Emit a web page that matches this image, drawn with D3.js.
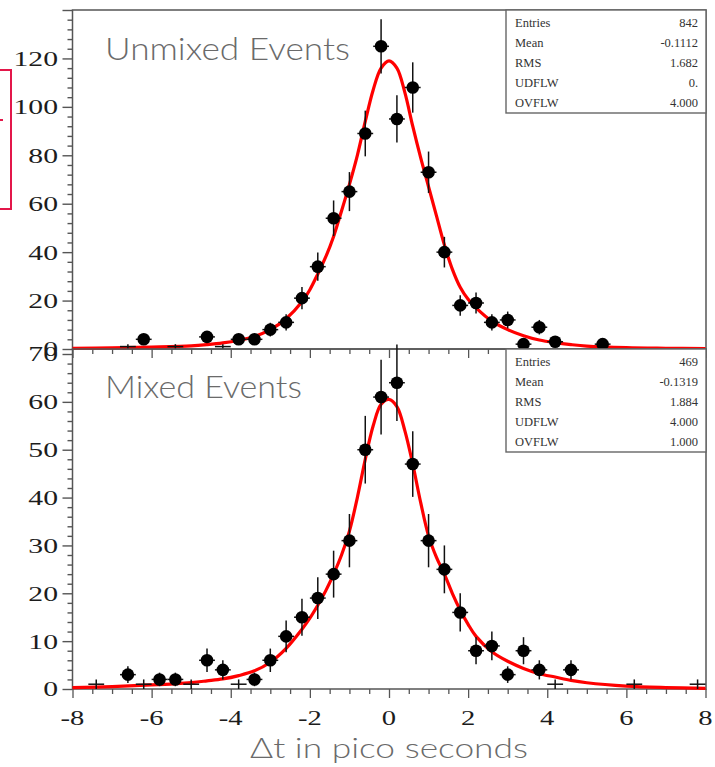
<!DOCTYPE html>
<html>
<head>
<meta charset="utf-8">
<script src="https://cdn.jsdelivr.net/npm/d3@7"></script>
<style>
  html, body { margin: 0; padding: 0; background: #fff; }
  svg { display: block; }
</style>
</head>
<body>
<svg id="chart" width="715" height="767"></svg>
<script>
// Δt distributions, 0.4 ps bins: bin centres (ps) and entries per bin
const unmixedBins   = [-6.2, -4.6, -3.8, -3.4, -3.0, -2.6, -2.2, -1.8, -1.4, -1.0, -0.6, -0.2, 0.2, 0.6, 1.0, 1.4, 1.8, 2.2, 2.6, 3.0, 3.4, 3.8, 4.2, 5.4];
const unmixedCounts = [4, 5, 4, 4, 8, 11, 21, 34, 54, 65, 89, 125, 95, 108, 73, 40, 18, 19, 11, 12, 2, 9, 3, 2];
const unmixedSingles = [-6.6, -5.4, -4.2];          // bins holding a single entry

const mixedBins   = [-6.6, -5.8, -5.4, -4.6, -4.2, -3.4, -3.0, -2.6, -2.2, -1.8, -1.4, -1.0, -0.6, -0.2, 0.2, 0.6, 1.0, 1.4, 1.8, 2.2, 2.6, 3.0, 3.4, 3.8, 4.6];
const mixedCounts = [3, 2, 2, 6, 4, 2, 6, 11, 15, 19, 24, 31, 50, 61, 64, 47, 31, 25, 16, 8, 9, 3, 8, 4, 4];
const mixedSingles = [-7.4, -6.2, -5.0, -3.8, 4.2, 6.2, 7.8];

// fitted resolution curve, sampled along Δt
const fitT       = [-8, -7, -6, -5, -4.6, -4.2, -3.8, -3.4, -3.0, -2.6, -2.2, -2.0, -1.8, -1.6, -1.4, -1.2, -1.0, -0.8, -0.6, -0.4, -0.2, 0, 0.2, 0.4, 0.6, 0.8, 1.0, 1.2, 1.4, 1.6, 1.8, 2.0, 2.2, 2.6, 3.0, 3.4, 3.8, 4.2, 4.6, 5.0, 6, 7, 8];
const unmixedFit = [0.3, 0.45, 0.8, 1.3, 1.8, 2.5, 3.6, 5.2, 8, 12.5, 19.5, 24.5, 31, 38, 46.5, 57, 68, 80, 94, 107, 116, 119, 116, 106, 92, 79, 67, 55, 43, 33, 25.5, 20.5, 17, 11.5, 8, 5.5, 3.7, 2.6, 1.8, 1.2, 0.55, 0.3, 0.15];
const mixedFit   = [0.3, 0.5, 0.85, 1.35, 1.7, 2.1, 2.8, 3.8, 5.6, 8.5, 12.5, 14.8, 17.5, 20.5, 24, 28, 33, 40, 48, 55, 59.5, 60.5, 59, 54, 47, 39, 32, 27.5, 24, 20, 16.5, 13.5, 11, 7.8, 5.8, 4.3, 3.2, 2.5, 1.8, 1.3, 0.6, 0.3, 0.15];

// axis labels
const xTickLabels   = [-8, -6, -4, -2, 0, 2, 4, 6, 8];
const unmixedYTicks = [0, 20, 40, 60, 80, 100, 120];
const mixedYTicks   = [0, 10, 20, 30, 40, 50, 60, 70];

// statistics boxes
const unmixedStats = [["Entries", "842"], ["Mean", "-0.1112"], ["RMS", "1.682"], ["UDFLW", "0."], ["OVFLW", "4.000"]];
const mixedStats   = [["Entries", "469"], ["Mean", "-0.1319"], ["RMS", "1.884"], ["UDFLW", "4.000"], ["OVFLW", "1.000"]];

const binHalf = 0.2;
const frameLeft = 72.5, frameRight = 706;
const svg = d3.select("#chart");

const x = d3.scaleLinear().domain([-8, 8]).range([72.5, 705.5]);

const panels = [
  {
    name: "Unmixed Events", titleWidth: 245, titleY: 60,
    y: d3.scaleLinear().domain([0, 140]).range([349, 10]),
    top: 10, bottom: 349, minorStep: 4, majorStep: 20, yMax: 140,
    labels: unmixedYTicks,
    bins: unmixedBins, counts: unmixedCounts, singles: unmixedSingles,
    fit: unmixedFit, stats: unmixedStats, statTop: 10
  },
  {
    name: "Mixed Events", titleWidth: 197, titleY: 398,
    y: d3.scaleLinear().domain([0, 70]).range([689, 354]),
    top: 349, bottom: 689, minorStep: 2, majorStep: 10, yMax: 70,
    labels: mixedYTicks,
    bins: mixedBins, counts: mixedCounts, singles: mixedSingles,
    fit: mixedFit, stats: mixedStats, statTop: 349
  }
];

const frameColor = "#555";

panels.forEach(p => {
  const g = svg.append("g");
  const y = p.y;

  // y axis: major and minor ticks
  const majorY = d3.range(0, p.yMax + 0.001, p.majorStep);
  const minorY = d3.range(0, p.yMax + 0.001, p.minorStep).filter(v => v % p.majorStep !== 0);
  [[majorY, 10], [minorY, 5]].forEach(([vals, len]) => {
    const ax = g.append("g").attr("transform", `translate(${frameLeft},0)`)
      .call(d3.axisLeft(y).tickValues(vals).tickSize(len).tickFormat(""));
    ax.select(".domain").remove();
    ax.selectAll("line").attr("stroke", frameColor).attr("stroke-width", 1.4);
  });

  // x axis ticks hanging below the panel's lower edge
  const majorX = d3.range(-8, 8.001, 2);
  const minorX = d3.range(-8, 8.001, 0.5).filter(v => v % 2 !== 0);
  [[majorX, 9], [minorX, 5]].forEach(([vals, len]) => {
    const ax = g.append("g").attr("transform", `translate(0,${p.bottom})`)
      .call(d3.axisBottom(x).tickValues(vals).tickSize(len).tickFormat(""));
    ax.select(".domain").remove();
    ax.selectAll("line").attr("stroke", frameColor).attr("stroke-width", 1.3);
  });

  // frame
  g.append("rect")
    .attr("x", frameLeft).attr("y", p.top)
    .attr("width", frameRight - frameLeft).attr("height", p.bottom - p.top)
    .attr("fill", "none").attr("stroke", frameColor).attr("stroke-width", 1.5);

  // y labels
  g.selectAll("text.ylab").data(p.labels).join("text")
    .attr("class", "ylab")
    .attr("transform", d => `translate(58,${y(d)}) scale(1.35,1)`)
    .attr("text-anchor", "end").attr("dy", "0.34em")
    .attr("font-family", "Liberation Serif, Times New Roman, serif")
    .attr("font-size", 22).attr("fill", "#1c1c1c")
    .text(d => d);

  // panel title
  g.append("text")
    .attr("x", 105).attr("y", p.titleY)
    .attr("font-family", "Lato, Open Sans, sans-serif").attr("font-weight", 300)
    .attr("font-size", 31).attr("fill", "#6a6a6a")
    .attr("textLength", p.titleWidth).attr("lengthAdjust", "spacingAndGlyphs")
    .text(p.name);

  // statistics box
  const sb = g.append("g");
  sb.append("rect")
    .attr("x", 506).attr("y", p.statTop).attr("width", frameRight - 506).attr("height", 103)
    .attr("fill", "#fff").attr("stroke", "#666").attr("stroke-width", 1.4);
  p.stats.forEach((s, i) => {
    const yy = p.statTop + 17 + i * 20;
    sb.append("text").attr("x", 515).attr("y", yy)
      .attr("font-family", "Liberation Serif, serif").attr("font-size", 12.5).attr("fill", "#333")
      .text(s[0]);
    sb.append("text").attr("x", 698).attr("y", yy).attr("text-anchor", "end")
      .attr("font-family", "Liberation Serif, serif").attr("font-size", 12.5).attr("fill", "#333")
      .text(s[1]);
  });

  // fitted curve
  const line = d3.line().x(d => x(d[0])).y(d => y(d[1])).curve(d3.curveCatmullRom.alpha(0.5));
  g.append("path")
    .datum(fitT.map((t, i) => [t, p.fit[i]]))
    .attr("d", line)
    .attr("fill", "none").attr("stroke", "#ff0000").attr("stroke-width", 3.2)
    .attr("stroke-linejoin", "round");

  // data points with statistical error bars
  const pts = p.bins.map((b, i) => ({ t: b, n: p.counts[i] }));
  const singles = p.singles.map(b => ({ t: b, n: 1 }));
  const all = pts.concat(singles);
  const eb = g.append("g").attr("stroke", "#111").attr("stroke-width", 1.5);
  eb.selectAll("line.v").data(all).join("line").attr("class", "v")
    .attr("x1", d => x(d.t)).attr("x2", d => x(d.t))
    .attr("y1", d => y(d.n + Math.sqrt(d.n))).attr("y2", d => y(d.n - Math.sqrt(d.n)));
  eb.selectAll("line.h").data(all).join("line").attr("class", "h")
    .attr("x1", d => x(d.t - binHalf)).attr("x2", d => x(d.t + binHalf))
    .attr("y1", d => y(d.n)).attr("y2", d => y(d.n));
  g.selectAll("circle.pt").data(pts).join("circle").attr("class", "pt")
    .attr("cx", d => x(d.t)).attr("cy", d => y(d.n)).attr("r", 6.3)
    .attr("fill", "#000");
});

// x labels and title
svg.selectAll("text.xlab").data(xTickLabels).join("text")
  .attr("class", "xlab")
  .attr("transform", d => `translate(${x(d)},724.5) scale(1.3,1)`)
  .attr("text-anchor", "middle")
  .attr("font-family", "Liberation Serif, Times New Roman, serif")
  .attr("font-size", 22).attr("fill", "#1c1c1c")
  .text(d => d);

svg.append("text")
  .attr("x", 250).attr("y", 757.5)
  .attr("font-family", "Lato, Open Sans, sans-serif").attr("font-weight", 300)
  .attr("font-size", 28).attr("fill", "#6a6a6a")
  .attr("textLength", 278).attr("lengthAdjust", "spacingAndGlyphs")
  .text("Δt in pico seconds");

// red marker box at the left margin
svg.append("rect")
  .attr("x", -10).attr("y", 70).attr("width", 21).attr("height", 139)
  .attr("fill", "none").attr("stroke", "#e3174a").attr("stroke-width", 2);
svg.append("line")
  .attr("x1", 0).attr("x2", 3).attr("y1", 120).attr("y2", 120)
  .attr("stroke", "#e3174a").attr("stroke-width", 2);
</script>
</body>
</html>
